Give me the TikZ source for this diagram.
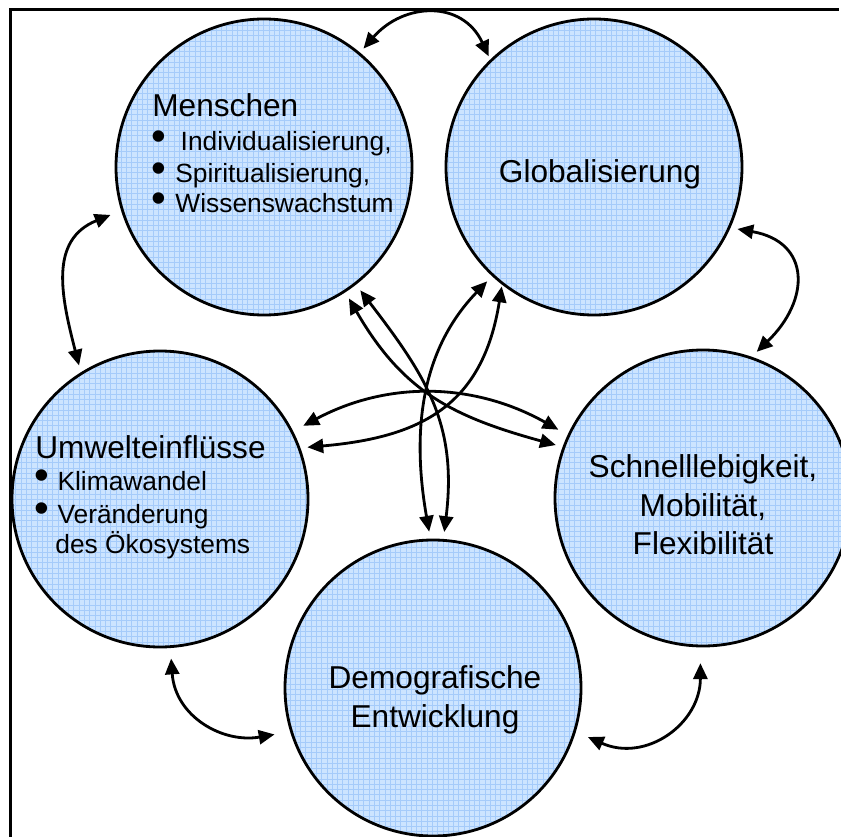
\documentclass[tikz,border=0pt]{standalone}
\usepackage{fontspec}
\setmainfont{Liberation Sans}
\usetikzlibrary{arrows.meta,patterns}
\definecolor{cfill}{RGB}{204,228,255}
\definecolor{cgrid}{RGB}{165,203,250}
\newcommand{\bul}{\smash{\raisebox{0.5pt}{\fontsize{24}{24}\selectfont •}}}

\begin{document}
\begin{tikzpicture}[x=0.2mm, y=-0.2mm,
		circ/.style={circle, draw, line width=1.6pt, minimum size=5.92cm, inner sep=0pt,
			preaction={fill=cfill}, pattern=grid, pattern color=cgrid},
		title/.style={font=\fontsize{18}{22}\selectfont, align=center, inner sep=0pt},
		item/.style={font=\fontsize{15}{18}\selectfont, anchor=base west, inner sep=0pt},
		link/.style={{Triangle[length=9pt,width=8pt]}-{Triangle[length=9pt,width=8pt]},
			line width=1.6pt, shorten <=4pt, shorten >=4pt}]
		%%%%% FRAME %%%%%
		\useasboundingbox (0,0) rectangle (841,837);
		\draw[line width=1.4pt] (10.5,837) -- (10.5,9.5) -- (839,9.5);
		
		%%%%% CIRCLES %%%%%
		\node[circ] (m) at (264,167) {};
		\node[circ] (g) at (594,167) {};
		\node[circ] (u) at (160,499) {};
		\node[circ] (s) at (703,498) {};
		\node[circ] (d) at (433,688) {};
		
		%%%%% OUTER ARROWS %%%%%
		\draw[link, shorten <=3pt, shorten >=2pt] (m.50) to[out=49, in=115, looseness=1.3] (g.134.5);
		\draw[link] (g.-24.3) to[out=-10, in=44, looseness=1.6] (s.71);
		\draw[link, shorten <=9pt, shorten >=7.5pt] (s.-91) to[out=-90, in=-24, looseness=1.3] (d.-17);
		\draw[link, shorten <=6pt, shorten >=9pt] (u.-86.4) to[out=-86, in=-170, looseness=1.2] (d.-163.8);
		\draw[link, shorten <=6.5pt] (m.-163.4) to[out=-158, in=104.5, looseness=1.2] (u.122.8);
		
		%%%%% INNER ARROWS %%%%%
		\draw[link] (m.-57.6) to[out=-60, in=164.6, looseness=1.1] (s.160.6);
		\draw[link] (m.-52) to[out=-52.5, in=83, looseness=1.1] (d.86.3);
		\draw[link] (g.-133) to[out=-134, in=100] (d.91.8);
		\draw[link, shorten <=1pt] (g.-128.5) to[out=-99, in=5, looseness=1.2] (u.20.6);
		\draw[link, shorten <=6.5pt, shorten >=6pt] (u.27.5) to[out=28, in=150.7] (s.155.9);
		
		%%%%% TEXT %%%%%
		\node[title, anchor=base west] (mt) at (152,117) {Menschen};
		\node[item] (m1) at (151.5,151) {\bul\hspace{8pt}Individualisierung,};
		\node[item] (m2) at (151.5,183) {\bul\hspace{5pt}Spiritualisierung,};
		\node[item] (m3) at (151.5,213) {\bul\hspace{5pt}Wissenswachstum};
		
		\node[title] (gt) at (600,174) {Globalisierung};
		
		\node[title, anchor=base west] (ut) at (35,458) {Umwelteinflüsse};
		\node[item] (u1) at (34.5,490) {\bul\hspace{4.5pt}Klimawandel};
		\node[item] (u2) at (34.5,523) {\bul\hspace{4.5pt}Veränderung};
		\node[item] (u3) at (55,553) {des Ökosystems};
		
		\node[title] (st) at (703,505) {Schnelllebigkeit,\\Mobilität,\\Flexibilität};
		\node[title] (dt) at (435,700) {Demografische\\Entwicklung};
\end{tikzpicture}
\end{document}
